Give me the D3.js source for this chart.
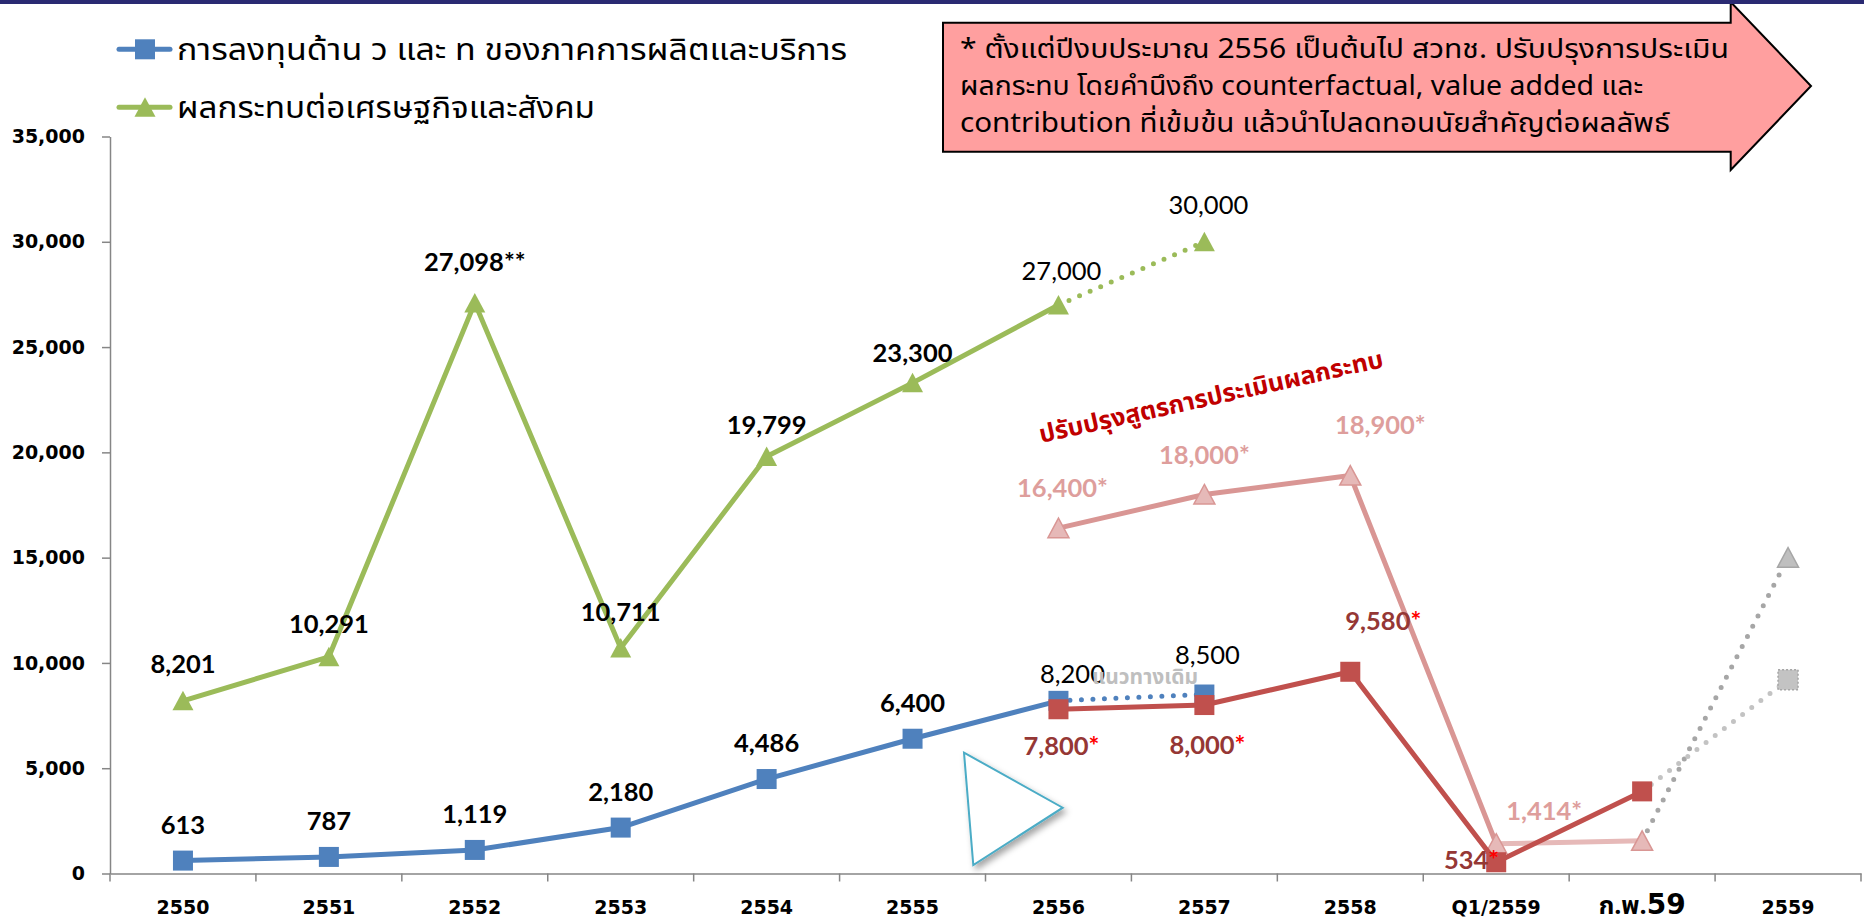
<!DOCTYPE html>
<html>
<head>
<meta charset="utf-8">
<script src="https://cdn.jsdelivr.net/npm/d3@7"></script>
<style>
  body { margin: 0; background: #fff; }
  svg { display: block; }
</style>
</head>
<body>
<div id="chart"></div>
<script>
// categories on the x axis
const categories = ["2550", "2551", "2552", "2553", "2554", "2555", "2556", "2557", "2558", "Q1/2559", "ก.พ.59", "2559"];
const yTicks = [0, 5000, 10000, 15000, 20000, 25000, 30000, 35000];

// blue: R&D investment (old method)
const investCats = ["2550", "2551", "2552", "2553", "2554", "2555", "2556"];
const investVals = [613, 787, 1119, 2180, 4486, 6400, 8200];
const investOldCats = ["2556", "2557"];
const investOldVals = [8200, 8500];

// green: economic / social impact (old method)
const impactVals = [8201, 10291, 27098, 10711, 19799, 23300, 27000];
const impactOldVals = [27000, 30000];

// revised method
const newCats = ["2556", "2557", "2558", "Q1/2559", "ก.พ.59"];
const investNewVals = [7800, 8000, 9580, 534, 3900];
const impactNewVals = [16400, 18000, 18900, 1414, 1550];

// targets for 2559 (grey dotted)
const targetCats = ["ก.พ.59", "2559"];
const investTargetVals = [3900, 9200];
const impactTargetVals = [1550, 15000];

const legendNames = ["การลงทุนด้าน ว และ ท ของภาคการผลิตและบริการ", "ผลกระทบต่อเศรษฐกิจและสังคม"];
const noteLines = [
  "* ตั้งแต่ปีงบประมาณ 2556 เป็นต้นไป สวทช. ปรับปรุงการประเมิน",
  "ผลกระทบ โดยคำนึงถึง counterfactual,  value added และ",
  "contribution ที่เข้มข้น แล้วนำไปลดทอนนัยสำคัญต่อผลลัพธ์"
];

const W = 1864, H = 923;
const thai = "Tahoma, 'Noto Sans Thai', 'Noto Sans Thai UI', 'Loma', 'Garuda', sans-serif";
const lbl = "Lato, 'Open Sans', sans-serif";

const svg = d3.select("#chart").append("svg")
  .attr("width", W).attr("height", H);

const defs = svg.append("defs");
const f = defs.append("filter").attr("id", "shadow").attr("x", "-20%").attr("y", "-20%").attr("width", "150%").attr("height", "150%");
f.append("feDropShadow").attr("dx", 3).attr("dy", 4).attr("stdDeviation", 3).attr("flood-color", "#000").attr("flood-opacity", 0.35);

const x = d3.scaleBand().domain(categories).range([110, 1861]);
const cx = c => x(c) + x.bandwidth() / 2;
const y = d3.scaleLinear().domain([0, 35000]).range([873.5, 136.5]);

const pts = (cats, vals) => cats.map((c, i) => ({c: c, v: vals[i]}));
const line = d3.line().x(d => cx(d.c)).y(d => y(d.v));

// note arrow (top right)
svg.append("path")
  .attr("d", "M943,22.7 L1730.7,22.7 L1730.7,2 L1811,86 L1730.7,170 L1730.7,151.7 L943,151.7 Z")
  .attr("fill", "#FF9F9F").attr("stroke", "#000").attr("stroke-width", 2);
const noteWidths = [769, 683, 710];
svg.append("g").selectAll("text").data(noteLines).join("text")
  .attr("x", 960).attr("y", (d, i) => 58 + i * 37)
  .attr("font-family", thai).attr("font-size", 26.5).attr("fill", "#000")
  .attr("textLength", (d, i) => noteWidths[i]).attr("lengthAdjust", "spacingAndGlyphs")
  .text(d => d);

// top bar
svg.append("rect").attr("x", 0).attr("y", 0).attr("width", W).attr("height", 4).attr("fill", "#2A2A72");

// y axis
svg.append("g")
  .attr("transform", "translate(110,0)")
  .call(d3.axisLeft(y).tickValues(yTicks).tickFormat(d3.format(",")).tickSize(8).tickSizeOuter(0))
  .call(g => {
    g.select(".domain").attr("stroke", "#868686").attr("stroke-width", 1.5);
    g.selectAll(".tick line").attr("stroke", "#868686").attr("stroke-width", 1.5);
    g.selectAll(".tick text").attr("x", -25).attr("fill", "#000")
      .attr("font-family", "'DejaVu Sans', Verdana, sans-serif").attr("font-weight", "bold").attr("font-size", 19);
  });

// x axis
const xg = svg.append("g")
  .attr("transform", "translate(0,873.5)")
  .call(d3.axisBottom(x).tickSize(0).tickSizeOuter(0))
  .call(g => {
    g.select(".domain").attr("stroke", "#868686").attr("stroke-width", 1.5);
    g.selectAll(".tick text").attr("y", 40).attr("dy", 0).attr("fill", "#000")
      .attr("font-family", "'DejaVu Sans', Verdana, sans-serif").attr("font-weight", "bold").attr("font-size", 19);
  });
xg.selectAll(".tick text").filter(d => d === "ก.พ.59")
  .text(null)
  .call(t => {
    t.append("tspan").attr("font-family", thai).attr("font-size", 25).text("ก.พ.");
    t.append("tspan").attr("font-size", 28).text("59");
  });
xg.selectAll(".bound").data(categories.map(c => x(c)).concat([x.range()[1]])).join("line")
  .attr("class", "bound")
  .attr("x1", d => d).attr("x2", d => d).attr("y1", 0).attr("y2", 8)
  .attr("stroke", "#868686").attr("stroke-width", 1.5);

// cyan play-like triangle (decorative shape)
svg.append("path")
  .attr("d", "M964,752.7 L1062.7,807.7 L973.3,865 Z")
  .attr("fill", "#fff").attr("stroke", "#4BACC6").attr("stroke-width", 2)
  .attr("filter", "url(#shadow)");

function drawLine(data, color, dotted, width) {
  svg.append("path").datum(data)
    .attr("d", line).attr("fill", "none")
    .attr("stroke", color).attr("stroke-width", width || 5)
    .attr("stroke-linecap", dotted ? "round" : "butt")
    .attr("stroke-linejoin", "round")
    .attr("stroke-dasharray", dotted ? "0 11.5" : null);
}
function squares(data, fill, stroke) {
  svg.append("g").selectAll("rect").data(data).join("rect")
    .attr("x", d => cx(d.c) - 10).attr("y", d => y(d.v) - 10)
    .attr("width", 20).attr("height", 20)
    .attr("fill", fill).attr("stroke", stroke || "none").attr("stroke-width", 1.5)
    .attr("stroke-dasharray", stroke && stroke !== fill ? "2 2" : null);
}
function triangles(data, fill, stroke) {
  svg.append("g").selectAll("path").data(data).join("path")
    .attr("d", d => {
      const px = cx(d.c), py = y(d.v);
      return `M${px},${py - 10} L${px + 10.5},${py + 9.5} L${px - 10.5},${py + 9.5} Z`;
    })
    .attr("fill", fill).attr("stroke", stroke || "none").attr("stroke-width", 1.5);
}

const investPts = pts(investCats, investVals);
const investOldPts = pts(investOldCats, investOldVals);
const impactPts = pts(investCats, impactVals);
const impactOldPts = pts(investOldCats, impactOldVals);
const investNewPts = pts(newCats, investNewVals);
const impactNewPts = pts(newCats, impactNewVals);
const investTargetPts = pts(targetCats, investTargetVals);
const impactTargetPts = pts(targetCats, impactTargetVals);

// blue series
drawLine(investOldPts, "#4F81BD", true);
drawLine(investPts, "#4F81BD", false);
squares(investOldPts.slice(1), "#4F81BD");
squares(investPts, "#4F81BD");

// green series
drawLine(impactOldPts, "#9BBB59", true);
drawLine(impactPts, "#9BBB59", false);
triangles(impactOldPts.slice(1), "#9BBB59");
triangles(impactPts, "#9BBB59");

// grey targets
drawLine(impactTargetPts, "#A6A6A6", true);
drawLine(investTargetPts, "#C3C3C3", true);
triangles(impactTargetPts.slice(1), "#BFBFBF", "#A6A6A6");
squares(investTargetPts.slice(1), "#C3C3C3", "#A6A6A6");

// revised impact (pink)
drawLine(impactNewPts.slice(0, 4), "#D99694", false);
drawLine(impactNewPts.slice(3), "#E6B9B8", false);
triangles(impactNewPts, "#E6B9B8", "#D99694");

// revised investment (red)
drawLine(investNewPts, "#C0504D", false);
squares(investNewPts, "#C0504D");

// data labels
const fmt = d3.format(",");
function label(p, text, opts) {
  const t = svg.append("text")
    .attr("x", cx(p.c) + (opts.dx || 0)).attr("y", y(p.v) + (opts.dy || -36))
    .attr("dy", "0.36em")
    .attr("text-anchor", opts.anchor || "middle")
    .attr("font-family", lbl).attr("font-size", 25.5)
    .attr("font-weight", opts.normal ? "normal" : "bold")
    .attr("fill", opts.color || "#000");
  t.append("tspan").text(text);
  if (opts.star) t.append("tspan").attr("fill", opts.star).text("*");
  return t;
}
investPts.slice(0, 6).forEach(p => label(p, fmt(p.v), {}));
const impactDy = [-37, -33, -41, -36, -32, -30];
impactPts.slice(0, 6).forEach((p, i) => label(p, fmt(p.v) + (p.v === 27098 ? "**" : ""), {dy: impactDy[i]}));
label(investOldPts[0], fmt(investOldPts[0].v), {normal: true, dx: 14, dy: -27});
label(investOldPts[1], fmt(investOldPts[1].v), {normal: true, dx: 3, dy: -40});
label(impactOldPts[0], fmt(impactOldPts[0].v), {normal: true, dx: 3, dy: -34});
label(impactOldPts[1], fmt(impactOldPts[1].v), {normal: true, dx: 4, dy: -37});

const redOpts = [{dx: 3, dy: 37}, {dx: 3, dy: 40}, {dx: 33, dy: -51}, {anchor: "end", dx: 3, dy: -2}];
investNewPts.slice(0, 4).forEach((p, i) =>
  label(p, fmt(p.v), Object.assign({color: "#953735", star: "#FF0000"}, redOpts[i])));
const pinkOpts = [{dx: 4, dy: -40}, {dx: 0, dy: -40}, {dx: 30, dy: -51}, {dx: 48, dy: -33}];
impactNewPts.slice(0, 4).forEach((p, i) =>
  label(p, fmt(p.v) + "*", Object.assign({color: "#DE9E9C"}, pinkOpts[i])));

// annotations
svg.append("text")
  .attr("x", 1145).attr("y", 676).attr("dy", "0.36em").attr("text-anchor", "middle")
  .attr("font-family", thai).attr("font-weight", "bold").attr("font-size", 21).attr("fill", "#BFBFBF")
  .text("แนวทางเดิม");
svg.append("text")
  .attr("transform", "translate(1213,405) rotate(-12.5)")
  .attr("text-anchor", "middle")
  .attr("font-family", thai).attr("font-weight", "bold").attr("font-size", 25).attr("fill", "#C00000")
  .text("ปรับปรุงสูตรการประเมินผลกระทบ");

// legend
const legend = svg.append("g");
const legendWidths = [670, 418];
[0, 1].forEach(i => {
  const ly = i === 0 ? 49.3 : 107.3;
  const col = i === 0 ? "#4F81BD" : "#9BBB59";
  legend.append("line").attr("x1", 119).attr("x2", 170).attr("y1", ly).attr("y2", ly)
    .attr("stroke", col).attr("stroke-width", 5).attr("stroke-linecap", "round");
  if (i === 0) {
    legend.append("rect").attr("x", 135).attr("y", ly - 10).attr("width", 20).attr("height", 20).attr("fill", col);
  } else {
    legend.append("path").attr("d", `M145,${ly - 10} L155.5,${ly + 9.5} L134.5,${ly + 9.5} Z`).attr("fill", col);
  }
  legend.append("text").attr("x", 177).attr("y", ly).attr("dy", "0.36em")
    .attr("font-family", thai).attr("font-size", 31).attr("fill", "#000")
    .attr("textLength", legendWidths[i]).attr("lengthAdjust", "spacingAndGlyphs")
    .text(legendNames[i]);
});
</script>
</body>
</html>
